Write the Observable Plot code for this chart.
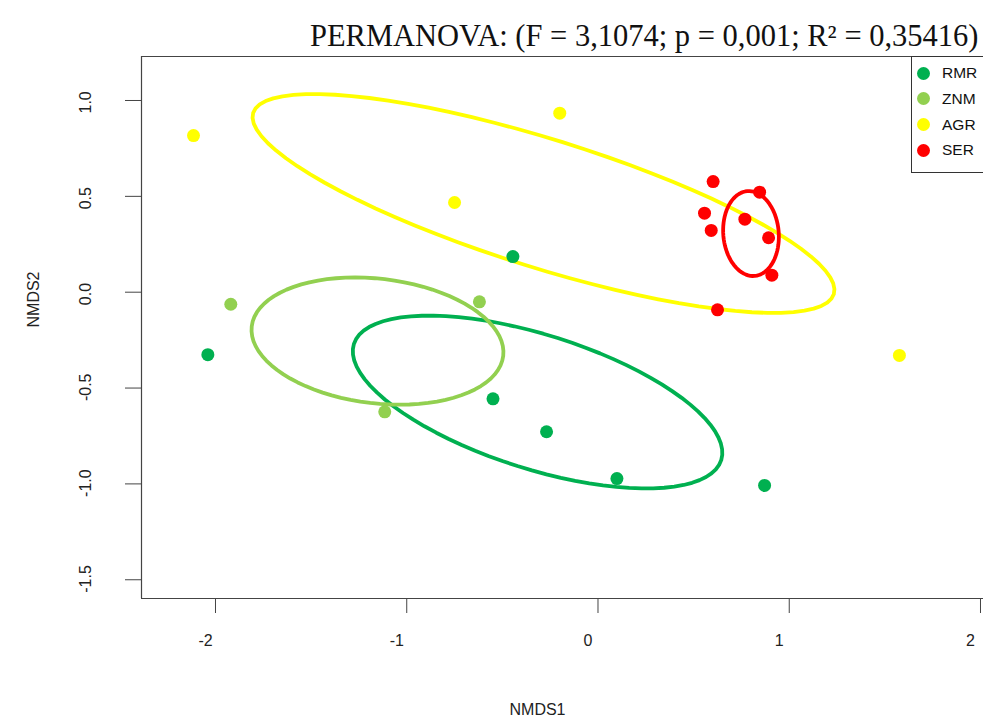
<!DOCTYPE html>
<html>
<head>
<meta charset="utf-8">
<script src="https://cdn.jsdelivr.net/npm/d3@7"></script>
<script src="https://cdn.jsdelivr.net/npm/@observablehq/plot@0.6"></script>
<style>
  html, body { margin: 0; padding: 0; background: #fff; overflow: hidden; }
  #wrap { position: relative; width: 983px; height: 722px; overflow: hidden; }
  #legend { position: absolute; left: 911px; top: 56px; width: 90px; height: 117px;
            border: 1px solid #333; background: #fff; box-sizing: border-box;
            font-family: "Liberation Sans", Arial, sans-serif; font-size: 15.5px; color: #111; }
  .item { position: absolute; left: 0; height: 20px; }
  .sw { position: absolute; left: 5px; width: 13px; height: 13px; border-radius: 50%; }
  .lb { position: absolute; left: 30px; white-space: nowrap; }
</style>
</head>
<body>
<div id="wrap"></div>
<script>
// ---- data ----
const groups = ["RMR", "ZNM", "AGR", "SER"];
const groupColors = ["#00B050", "#92D050", "#FFFF00", "#FF0000"];

const siteGroup = [
  "RMR","RMR","RMR","RMR","RMR","RMR",
  "ZNM","ZNM","ZNM",
  "AGR","AGR","AGR","AGR",
  "SER","SER","SER","SER","SER","SER","SER","SER"
];
const nmds1 = [
  -0.445, -2.040, -0.549, -0.269, 0.099, 0.871,
  -1.920, -0.620, -1.115,
  -2.115, -0.200, -0.750, 1.576,
  0.602, 0.845, 0.557, 0.768, 0.592, 0.892, 0.909, 0.625
];
const nmds2 = [
  0.186, -0.326, -0.556, -0.728, -0.972, -1.008,
  -0.063, -0.050, -0.624,
  0.817, 0.934, 0.468, -0.330,
  0.577, 0.522, 0.412, 0.381, 0.322, 0.284, 0.089, -0.092
];

// ellipse parameters per group (centre, semi-axes, rotation in degrees)
const ellCenterX = [-0.316, -1.153, -0.285, 0.800];
const ellCenterY = [-0.573, -0.255, 0.4627, 0.306];
const ellSemiA   = [1.007, 0.662, 1.590, 0.222];
const ellSemiB   = [0.350, 0.325, 0.335, 0.145];
const ellAngle   = [-17.5, -6.7, -17.3, 95];

const xTicks = [-2, -1, 0, 1, 2];
const xTickLabels = ["-2", "-1", "0", "1", "2"];
const yTicks = [-1.5, -1, -0.5, 0, 0.5, 1];
const yTickLabels = ["-1.5", "-1.0", "-0.5", "0.0", "0.5", "1.0"];

const xDomain = [-2.3869, 2.0157];
const yDomain = [-1.5978, 1.2295];

const titleText = "PERMANOVA: (F = 3,1074; p = 0,001; R\u00B2 = 0,35416)";
const xLabel = "NMDS1";
const yLabel = "NMDS2";

// ---- build tables ----
const points = nmds1.map((x, i) => ({x, y: nmds2[i], g: siteGroup[i]}));
const ellipsePts = [];
groups.forEach((g, gi) => {
  const th = ellAngle[gi] * Math.PI / 180;
  const n = 80;
  for (let k = 0; k <= n; k++) {
    const t = 2 * Math.PI * k / n;
    const ca = ellSemiA[gi] * Math.cos(t), sb = ellSemiB[gi] * Math.sin(t);
    ellipsePts.push({
      x: ellCenterX[gi] + ca * Math.cos(th) - sb * Math.sin(th),
      y: ellCenterY[gi] + ca * Math.sin(th) + sb * Math.cos(th),
      g
    });
  }
});

const ink = "#444";
const chart = Plot.plot({
  width: 983, height: 722,
  marginLeft: 141, marginRight: 0, marginTop: 56, marginBottom: 124,
  x: {domain: xDomain, label: null},
  y: {domain: yDomain, label: null},
  color: {domain: groups, range: groupColors},
  style: {fontFamily: "'Liberation Sans', Arial, sans-serif", background: "#fff", color: "#222"},
  marks: [
    Plot.ruleY(yDomain, {stroke: ink, strokeWidth: 1.2}),
    Plot.ruleX([xDomain[0]], {stroke: ink, strokeWidth: 1.2}),
    Plot.axisX(xTicks, {tickSize: 15, tickFormat: () => "", stroke: ink, label: null}),
    Plot.axisY(yTicks, {tickSize: 16, tickFormat: () => "", stroke: ink, label: null}),
    Plot.text(xTicks, {x: d => d, text: (d, i) => xTickLabels[i], frameAnchor: "bottom",
      dy: 47, dx: -10, fontSize: 16, fill: "#222"}),
    Plot.text(yTicks, {y: d => d, text: (d, i) => yTickLabels[i], frameAnchor: "left",
      dx: -56, dy: 13, rotate: -90, fontSize: 16, fill: "#222"}),
    Plot.line(ellipsePts, {x: "x", y: "y", z: "g", stroke: "g", strokeWidth: 3.8,
      curve: "linear", strokeLinejoin: "round"}),
    Plot.dot(points, {x: "x", y: "y", fill: "g", r: 6.5}),
    Plot.text([titleText], {frameAnchor: "top-right", textAnchor: "end", dx: -5, dy: -32,
      fontFamily: "'Liberation Serif', 'Times New Roman', serif", fontSize: 30.5, fill: "#111"}),
    Plot.text([xLabel], {frameAnchor: "bottom", dx: -25, dy: 116, fontSize: 16, fill: "#222"}),
    Plot.text([yLabel], {frameAnchor: "left", dx: -108, rotate: -90, fontSize: 16, fill: "#222"})
  ]
});

const wrap = document.getElementById("wrap");
wrap.appendChild(chart);

// legend (topright, inside the plot box)
const legend = document.createElement("div");
legend.id = "legend";
const itemTops = [16, 41.8, 67.6, 93.4];
groups.forEach((g, i) => {
  const it = document.createElement("div");
  it.className = "item";
  it.style.top = (itemTops[i] - 10) + "px";
  const sw = document.createElement("span");
  sw.className = "sw";
  sw.style.background = groupColors[i];
  sw.style.top = "3.5px";
  const lb = document.createElement("span");
  lb.className = "lb";
  lb.style.top = "1px";
  lb.textContent = g;
  it.appendChild(sw);
  it.appendChild(lb);
  legend.appendChild(it);
});
wrap.appendChild(legend);
</script>
</body>
</html>
